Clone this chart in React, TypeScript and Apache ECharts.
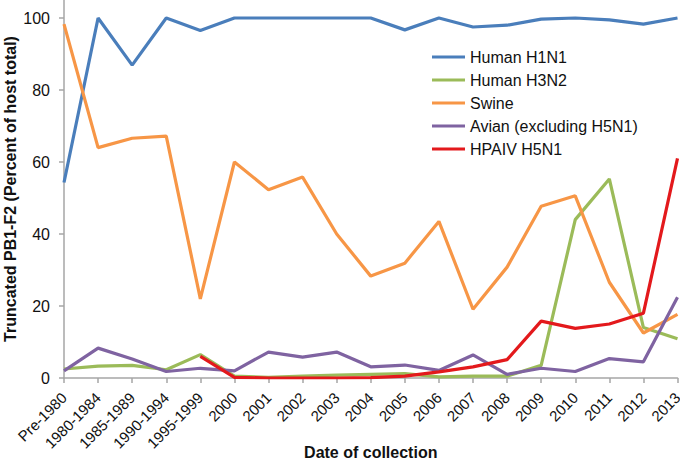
import React, { useEffect, useRef } from "react";
import * as echarts from "echarts";

const categories = [
  "Pre-1980", "1980-1984", "1985-1989", "1990-1994", "1995-1999",
  "2000", "2001", "2002", "2003", "2004", "2005", "2006", "2007",
  "2008", "2009", "2010", "2011", "2012", "2013",
];

const humanH1N1 = [54.3, 100, 86.9, 100, 96.5, 100, 100, 100, 100, 100, 96.7, 100, 97.5, 98, 99.7, 100, 99.5, 98.3, 100];
const humanH3N2 = [2.5, 3.3, 3.5, 2.3, 6.5, 0.5, 0.2, 0.5, 0.8, 1, 1.2, 0.3, 0.5, 0.5, 3.5, 44, 55.3, 14, 10.9];
const swine = [98.3, 64, 66.6, 67.2, 22, 60, 52.3, 55.8, 40, 28.3, 31.9, 43.5, 19.1, 30.8, 47.7, 50.6, 26.6, 12.5, 17.7];
const avian = [2, 8.3, 5.3, 1.8, 2.7, 2, 7.2, 5.8, 7.2, 3.1, 3.6, 2.1, 6.4, 1, 2.7, 1.8, 5.4, 4.5, 22.4];
const hpaivH5N1 = [null, null, null, null, 6, 0.2, 0, 0, 0, 0.1, 0.5, 1.7, 3.1, 5.1, 15.8, 13.8, 15, 18, 61];

const yTicks = [0, 20, 40, 60, 80, 100];

const seriesDefs = [
  { name: "Human H1N1", data: humanH1N1, color: "#4A7EBB" },
  { name: "Human H3N2", data: humanH3N2, color: "#9BBB59" },
  { name: "Swine", data: swine, color: "#F79646" },
  { name: "Avian (excluding H5N1)", data: avian, color: "#7F63A1" },
  { name: "HPAIV H5N1", data: hpaivH5N1, color: "#E3191C" },
];

export default function App() {
  const ref = useRef<HTMLDivElement>(null);
  useEffect(() => {
    if (!ref.current) return;
    const chart = echarts.init(ref.current, undefined, { renderer: "svg" });
    const font = "'Liberation Sans', Arial, sans-serif";
    chart.setOption({
      animation: false,
      textStyle: { fontFamily: font },
      grid: { left: 64, right: 2.5, top: 0, bottom: 82, containLabel: false, outerBoundsMode: "none" },
      legend: {
        orient: "vertical",
        left: 427,
        top: 44,
        itemWidth: 33,
        itemHeight: 3,
        itemGap: 7,
        icon: "rect",
        textStyle: { fontSize: 16, color: "#111", fontFamily: font, lineHeight: 16 },
        data: seriesDefs.map((s) => s.name),
      },
      xAxis: {
        type: "category",
        data: categories,
        boundaryGap: false,
        name: "Date of collection",
        nameLocation: "middle",
        nameGap: 66,
        nameMoveOverlap: false,
        nameTextStyle: { fontSize: 16, fontWeight: "bold", color: "#111", fontFamily: font },
        axisLine: { lineStyle: { color: "#A6A6A6", width: 1.5 } },
        axisTick: { show: true, alignWithLabel: true, length: 5, lineStyle: { color: "#A6A6A6", width: 1.5 } },
        axisLabel: { rotate: 45, fontSize: 15, color: "#111", margin: 17, interval: 0, fontFamily: font },
        splitLine: { show: false },
      },
      yAxis: {
        type: "value",
        min: 0,
        max: 105,
        interval: 20,
        name: "Truncated PB1-F2 (Percent of host total)",
        nameLocation: "middle",
        nameGap: 46,
        nameMoveOverlap: false,
        nameRotate: 90,
        nameTextStyle: { fontSize: 16, fontWeight: "bold", color: "#111", fontFamily: font },
        axisLine: { show: true, lineStyle: { color: "#A6A6A6", width: 1.5 } },
        axisTick: { show: true, length: 5, customValues: yTicks, lineStyle: { color: "#A6A6A6", width: 1.5 } },
        axisLabel: { fontSize: 16, color: "#111", margin: 14, customValues: yTicks, fontFamily: font },
        splitLine: { show: false },
      },
      series: seriesDefs.map((s) => ({
        name: s.name,
        type: "line",
        data: s.data,
        showSymbol: false,
        symbol: "none",
        color: s.color,
        lineStyle: { color: s.color, width: 3.2 },
        connectNulls: false,
      })),
    });
    return () => chart.dispose();
  }, []);
  return <div ref={ref} style={{ width: 680, height: 460, position: "absolute", left: 0, top: 0 }} />;
}
